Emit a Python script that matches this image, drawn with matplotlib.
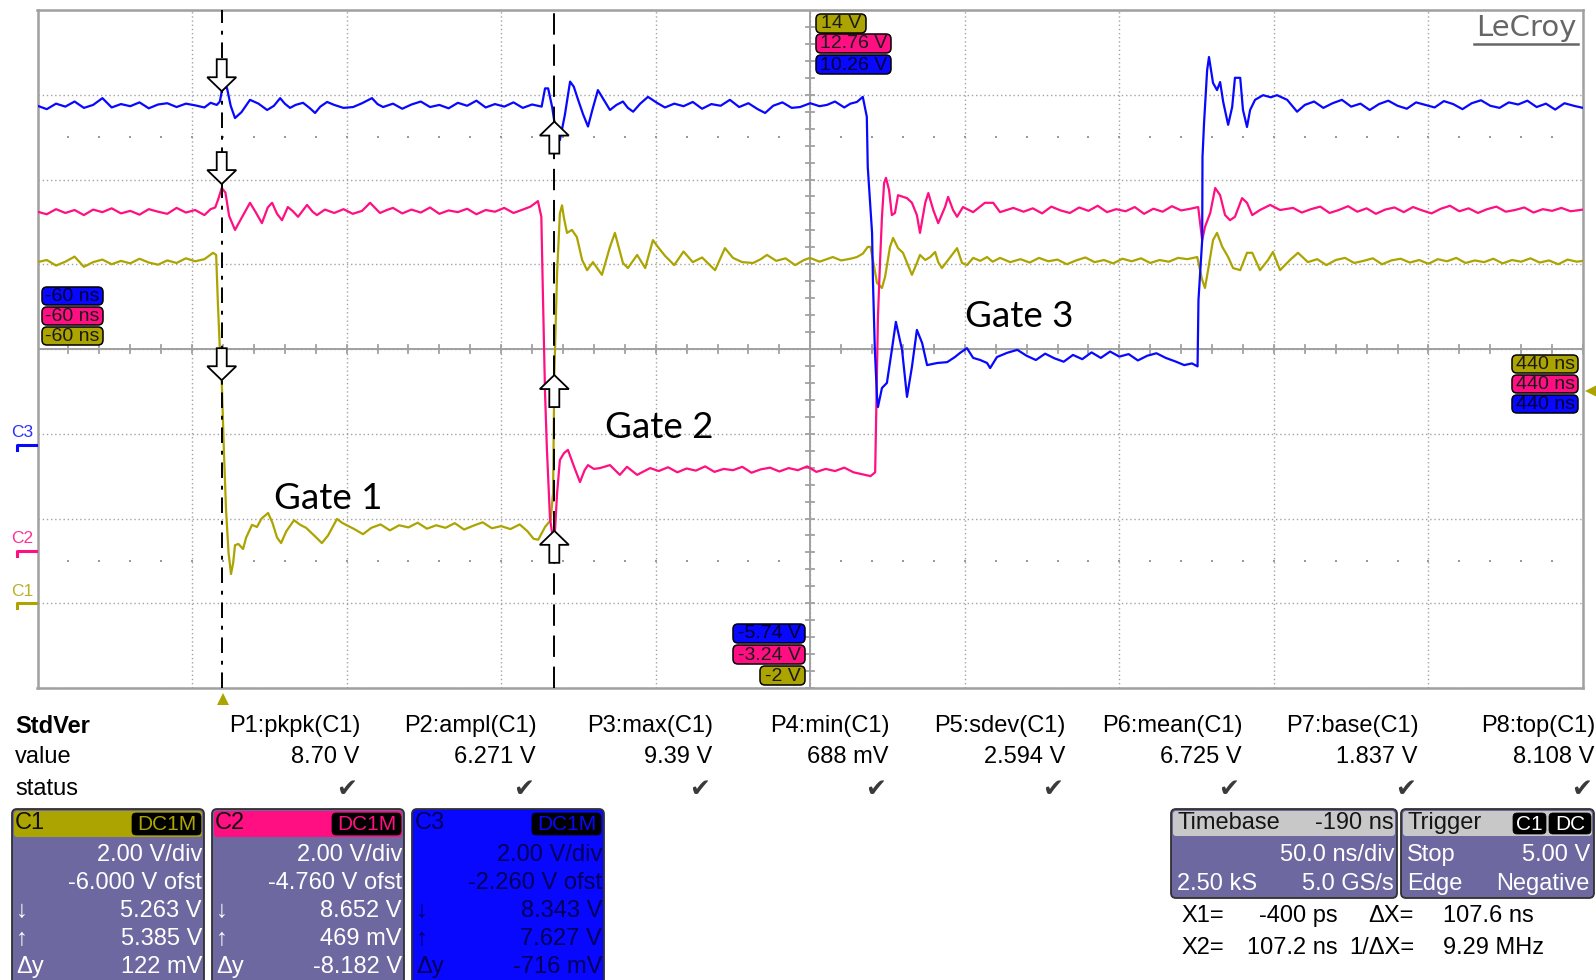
import numpy as np
import matplotlib
matplotlib.use("Agg")
import matplotlib.pyplot as plt
from matplotlib.patches import FancyBboxPatch, Polygon
from matplotlib.lines import Line2D
import matplotlib.transforms as mtransforms

# ------------------------------------------------------------------ data
time_range_ns = (-60, 440)
ns_per_div = 50.0
volts_per_div = 2.0
channel_names = ["C1", "C2", "C3"]
channel_offset_v = [-6.000, -4.760, -2.260]

# (time ns, volts)
c1_wave = [
    (-60, 8.05), (-57, 8.10), (-54, 7.97), (-51, 8.06), (-48, 8.18), (-45, 7.94), (-42, 8.05), (-39, 8.11),
    (-36, 8.00), (-33, 8.08), (-30, 8.02), (-27, 8.13), (-24, 8.04), (-21, 7.99), (-18, 8.09), (-15, 8.03),
    (-12, 8.14), (-9, 8.07), (-6, 8.12), (-4.5, 8.20), (-3.2, 8.27), (-2.2, 8.22),
    (-1.6, 7.00), (-1.0, 6.00), (-0.4, 5.26), (0.3, 3.60), (1.0, 2.20), (1.8, 1.20), (2.6, 0.69),
    (3.3, 0.95), (3.9, 1.37), (5.0, 1.40), (6.5, 1.28), (7.5, 1.55), (9.4, 1.85), (11.0, 1.80), (12.5, 2.00),
    (14.6, 2.13), (16.0, 1.90), (17.5, 1.55), (18.8, 1.42), (20.5, 1.70), (23.0, 1.96), (25.0, 1.85),
    (26.9, 1.78), (29.5, 1.60), (32.0, 1.42), (34.0, 1.60), (36.9, 1.99), (38.5, 1.90), (39.8, 1.85),
    (42.5, 1.75), (45.3, 1.63),
    (48, 1.78), (51, 1.86), (54, 1.72), (57, 1.84), (60, 1.79), (63, 1.90), (66, 1.76), (69, 1.84),
    (72, 1.78), (75, 1.89), (78, 1.74), (81, 1.83), (84, 1.91), (87, 1.77), (90, 1.82), (93, 1.75),
    (96, 1.86), (98.5, 1.70), (100.5, 1.52), (102.0, 1.50), (104.2, 1.80), (106.0, 1.96),
    (106.8, 2.60), (107.2, 5.39), (108.1, 7.80), (109.0, 9.20), (109.7, 9.39),
    (110.3, 9.10), (111.3, 8.74), (112.9, 8.81), (114.5, 8.64), (116.2, 8.10), (117.8, 7.86), (119.7, 8.05),
    (122.6, 7.75), (125.2, 8.41), (126.8, 8.74), (129.4, 8.03), (131.0, 7.91), (134.0, 8.22), (136.6, 7.91),
    (139.1, 8.57), (140.7, 8.41), (143.0, 8.20), (146.0, 7.98), (149.0, 8.30), (152.0, 8.05), (155.0, 8.16),
    (159.2, 7.86), (162.4, 8.38), (165.0, 8.15), (168.0, 8.05), (171.5, 8.03), (174.0, 8.12), (176.0, 8.22),
    (179, 8.08), (182, 8.14), (185.1, 7.98), (188, 8.10), (189.9, 8.15), (193, 8.06), (197.3, 8.17),
    (200, 8.09), (203, 8.13), (205.1, 8.17), (207, 8.25), (208.6, 8.41), (209.5, 8.41),
    (211.6, 7.56), (213.2, 7.44), (214.2, 7.70), (215.8, 8.41), (216.8, 8.62), (218.4, 8.38), (220.0, 8.27),
    (221.6, 7.98), (222.9, 7.75), (224.5, 8.03), (225.5, 8.22), (227.2, 8.10), (228.8, 8.17), (230.4, 8.29),
    (231.4, 8.05), (232.6, 7.91), (234.6, 8.10), (237.5, 8.38), (239.1, 8.03), (240.7, 7.98), (242.7, 8.15),
    (245, 8.08), (247.2, 8.17), (249, 8.06), (251.4, 8.15), (254.7, 8.05),
    (258, 8.12), (261, 8.04), (264, 8.15), (267, 8.07), (270, 8.11), (273, 8.00), (276, 8.09), (279, 8.16),
    (282, 8.05), (285, 8.10), (288, 8.02), (291, 8.13), (294, 8.07), (297, 8.14), (300, 8.03), (303, 8.10),
    (306, 8.06), (309, 8.15), (312, 8.12), (315.2, 8.17),
    (316.8, 7.63), (317.7, 7.44), (318.7, 7.86), (320.3, 8.57), (321.6, 8.74), (323.3, 8.41), (325.2, 8.17),
    (326.8, 7.91), (329.1, 7.86), (331.3, 8.27), (333.0, 8.27), (335.5, 7.86), (338.1, 8.10), (339.7, 8.29),
    (342.0, 7.86), (345.2, 8.10), (347.8, 8.27),
    (351, 8.05), (354, 8.12), (357, 7.98), (360, 8.10), (363, 8.15), (366, 8.03), (369, 8.08), (372, 8.14),
    (375, 8.00), (378, 8.09), (381, 8.13), (384, 8.04), (387, 8.10), (390, 8.01), (393, 8.12), (396, 8.07),
    (399, 8.15), (402, 8.03), (405, 8.09), (408, 8.05), (411, 8.13), (414, 8.02), (417, 8.10), (420, 8.06),
    (423, 8.14), (426, 8.04), (429, 8.09), (432, 8.00), (435, 8.11), (438, 8.06), (440, 8.08),
]

c2_wave = [
    (-60, 8.00), (-57, 7.94), (-54, 8.06), (-51, 7.97), (-48, 8.04), (-45, 7.92), (-42, 8.05), (-39, 7.99),
    (-36, 8.08), (-33, 7.96), (-30, 8.02), (-27, 7.93), (-24, 8.06), (-21, 8.00), (-18, 7.95), (-15, 8.09),
    (-12, 7.98), (-9, 8.04), (-6, 7.92), (-4, 8.06), (-2.5, 8.10), (-1.5, 8.30),
    (-0.4, 8.56), (0.8, 8.45), (2.0, 7.90), (3.9, 7.57), (6.0, 7.85), (8.75, 8.21), (10.5, 8.00), (12.6, 7.73),
    (14.5, 8.10), (15.9, 8.21), (17.5, 7.95), (19.1, 7.80), (21.0, 8.11), (22.5, 8.02), (24.3, 7.88),
    (27.2, 8.16), (29.0, 8.00), (30.4, 7.92), (33, 8.05), (36, 7.97), (39, 8.06), (42, 7.95), (45, 8.02),
    (47.6, 8.21), (50.8, 7.97), (53, 8.04), (55, 8.09),
    (58, 7.96), (61, 8.05), (64, 7.98), (67, 8.10), (70, 7.95), (73, 8.03), (76, 7.99), (79, 8.07),
    (82, 7.94), (85, 8.04), (88, 8.00), (91, 8.09), (94, 7.97), (97, 8.05), (99.5, 8.12), (101.9, 8.25),
    (103.0, 7.88), (103.5, 6.08), (104.2, 3.72), (104.8, 2.40), (105.8, 0.76), (106.5, 0.42), (107.4, 0.45),
    (108.1, 1.36), (109.0, 2.14), (110.3, 2.30), (111.6, 2.38), (113.5, 2.00), (115.5, 1.62), (117, 1.90),
    (118.1, 2.02), (120, 1.93), (122, 1.95), (125.2, 2.02), (128.4, 1.79), (130.7, 1.98), (134, 1.79),
    (138.2, 1.95),
    (141, 1.88), (144, 1.97), (147, 1.85), (150, 1.94), (153, 1.89), (156, 1.99), (159, 1.86), (162, 1.93),
    (165, 1.90), (168, 1.98), (171, 1.84), (174, 1.92), (177, 1.96), (180, 1.87), (183, 1.95), (186, 1.90),
    (189, 1.99), (192, 1.86), (195, 1.93), (198, 1.88), (201, 1.96), (204, 1.85), (207, 1.80), (209.5, 1.76),
    (211.0, 1.85),
    (211.9, 5.52), (212.6, 6.86), (213.2, 7.88), (213.9, 8.68), (214.5, 8.80), (215.5, 8.51), (216.4, 7.92),
    (217.4, 7.97), (218.4, 8.39), (221.3, 8.32), (222.9, 8.21), (224.5, 7.92), (225.5, 7.50), (227.2, 8.21),
    (228.2, 8.44), (229.8, 8.04), (231.4, 7.73), (233.6, 8.11), (234.6, 8.35), (236.2, 8.04), (237.5, 7.88),
    (239.4, 8.11), (242.7, 7.99), (246.5, 8.21), (249.2, 8.21), (251.4, 7.99), (255.7, 8.09),
    (259, 8.00), (262, 8.08), (265, 7.96), (268, 8.12), (271, 8.03), (274, 7.97), (277, 8.10), (280, 8.02),
    (283, 8.14), (286, 7.99), (289, 8.06), (292, 8.01), (295, 8.11), (298, 7.95), (301, 8.07), (304, 8.00),
    (307, 8.13), (310, 8.03), (313, 8.07), (315.5, 8.11),
    (316.8, 7.33), (317.7, 7.64), (319.4, 7.97), (321.0, 8.56), (322.6, 8.39), (324.2, 7.92), (325.8, 7.80),
    (327.4, 7.88), (329.7, 8.32), (331.3, 8.21), (333.0, 7.92), (335.5, 8.04), (338.8, 8.16), (342.0, 8.04),
    (346.2, 8.09),
    (349, 7.98), (352, 8.06), (355, 8.12), (358, 7.97), (361, 8.04), (364, 8.13), (367, 8.00), (370, 8.08),
    (373, 7.95), (376, 8.05), (379, 8.10), (382, 7.99), (385, 8.11), (388, 8.03), (391, 7.96), (394, 8.07),
    (397, 8.14), (400, 8.01), (403, 8.08), (406, 7.97), (409, 8.06), (412, 8.12), (415, 8.00), (418, 8.04),
    (421, 8.10), (424, 7.98), (427, 8.06), (430, 8.02), (433, 8.09), (436, 8.01), (440, 8.05),
]

c3_wave = [
    (-60, 8.00), (-57, 7.92), (-54, 8.05), (-51, 7.98), (-48, 8.10), (-45, 7.95), (-42, 8.02), (-39, 8.18),
    (-36, 7.96), (-33, 8.04), (-30, 7.99), (-27, 8.08), (-24, 7.94), (-21, 8.03), (-18, 8.06), (-15, 7.97),
    (-12, 8.05), (-9, 8.01), (-6, 7.96), (-4, 8.07), (-2, 8.02), (-1, 8.10),
    (-0.4, 8.34), (0.3, 8.42), (1.3, 8.42), (2.5, 8.00), (3.9, 7.71), (6.0, 7.85), (8.75, 8.14), (11.5, 8.05),
    (14.3, 7.90), (16.5, 8.00), (18.5, 8.18), (20.0, 8.05), (21.7, 7.95), (23.5, 8.02), (25.9, 8.07),
    (28.0, 7.95), (29.8, 7.83), (31.5, 7.98), (33.7, 8.09), (36, 8.02), (39, 7.95), (42.1, 7.97), (45, 8.06),
    (48.2, 8.18), (50, 8.04), (51.8, 7.97),
    (55, 8.05), (58, 7.93), (61, 8.03), (64, 8.10), (67, 7.97), (70, 8.02), (73, 7.94), (76, 8.07),
    (79, 8.00), (82, 8.12), (85, 7.96), (88, 8.04), (91, 7.98), (94, 8.08), (97, 7.95), (100, 8.03),
    (103.1, 7.98),
    (104.2, 8.41), (105.2, 8.41), (106.5, 7.97), (107.2, 7.63), (108.0, 7.40), (109.0, 7.19), (110.6, 7.78),
    (112.3, 8.57), (113.5, 8.45), (114.9, 8.14), (116.5, 7.80), (118.1, 7.51), (119.5, 7.90), (121.3, 8.37),
    (123.2, 8.14), (125.2, 7.90), (127.3, 8.02), (129.4, 8.10), (131, 7.95), (132.7, 7.86), (135, 8.05),
    (137.5, 8.21), (140.4, 8.07),
    (143, 7.96), (146, 8.05), (149, 7.99), (152, 8.09), (155, 7.93), (158, 8.04), (161, 8.00), (164, 8.14),
    (167, 7.97), (170, 8.06), (173, 7.92), (175.4, 7.83), (178, 8.00), (181, 8.08), (184, 7.95),
    (186.7, 7.97), (190, 8.06), (193, 7.99), (195.4, 8.02), (198, 8.10), (201, 7.96), (203, 8.05),
    (205.1, 8.09), (207.0, 8.21),
    (208.3, 7.74), (208.6, 6.56), (210.0, 5.00), (210.3, 3.82), (210.9, 2.24), (211.6, 1.13), (211.9, 0.89),
    (213.2, 1.34), (214.8, 1.46), (216.4, 2.24), (217.7, 2.90), (219.7, 2.24), (221.3, 1.13), (222.9, 1.84),
    (224.5, 2.71), (226.2, 2.40), (227.8, 1.88), (231.1, 1.93), (234.3, 1.95), (236.8, 2.07), (238.5, 2.17),
    (240.7, 2.28), (242.7, 2.05), (245, 2.00), (247.2, 1.93), (248.2, 1.81), (250.4, 2.07), (253.7, 2.17),
    (257.0, 2.24),
    (260, 2.10), (263, 2.00), (266, 2.15), (269, 2.04), (272, 1.96), (275, 2.12), (278, 2.02), (281, 2.18),
    (284, 2.05), (287, 2.20), (290, 2.08), (293, 2.14), (296, 1.99), (299, 2.10), (302, 2.16), (305, 2.05),
    (308, 1.97), (311, 1.88), (313.5, 1.92), (315.3, 1.85),
    (315.6, 3.42), (316.8, 4.83), (316.9, 6.79), (317.4, 7.59), (318.4, 8.84), (319.0, 9.15), (320.3, 8.54),
    (321.6, 8.37), (322.6, 8.56), (323.6, 8.09), (325.2, 7.55), (326.5, 7.97), (327.4, 8.66), (329.1, 8.66),
    (330.0, 7.90), (331.3, 7.50), (332.3, 7.90), (333.9, 8.14), (336.5, 8.25), (339, 8.20), (341.0, 8.25),
    (344.3, 8.14), (347.5, 7.86),
    (350, 8.02), (353, 8.10), (356, 7.95), (359, 8.06), (362, 8.14), (365, 7.98), (368, 8.05), (371, 7.90),
    (374, 8.04), (377, 8.12), (380, 8.00), (383, 7.93), (386, 8.08), (389, 8.02), (392, 7.96), (395, 8.11),
    (398, 8.04), (401, 7.92), (404, 8.06), (407, 8.13), (410, 8.00), (413, 7.95), (416, 8.08), (419, 8.03),
    (422, 8.12), (425, 7.97), (428, 8.05), (431, 7.91), (434, 8.06), (437, 8.00), (440, 7.95),
]

cursor_times_ns = [-0.4, 107.2]          # X1, X2
cursor_v = [[5.263, 5.385], [8.652, 0.469], [8.343, 7.627]]   # C1, C2, C3 at X1, X2
trigger_time_ns = 0.0
trigger_level_v = 5.00

gate_labels = ["Gate 1", "Gate 2", "Gate 3"]

meas_headers = ["P1:pkpk(C1)", "P2:ampl(C1)", "P3:max(C1)", "P4:min(C1)",
                "P5:sdev(C1)", "P6:mean(C1)", "P7:base(C1)", "P8:top(C1)"]
meas_values = ["8.70 V", "6.271 V", "9.39 V", "688 mV", "2.594 V", "6.725 V", "1.837 V", "8.108 V"]

ch_vdiv = ["2.00 V/div", "2.00 V/div", "2.00 V/div"]
ch_ofst = ["-6.000 V ofst", "-4.760 V ofst", "-2.260 V ofst"]
ch_down = ["5.263 V", "8.652 V", "8.343 V"]
ch_up = ["5.385 V", "469 mV", "7.627 V"]
ch_dy = ["122 mV", "-8.182 V", "-716 mV"]

timebase_rows = [("Timebase", "-190 ns"), ("", "50.0 ns/div"), ("2.50 kS", "5.0 GS/s")]
trigger_rows = [("Stop", "5.00 V"), ("Edge", "Negative")]
cursor_rows = [("X1=", "-400 ps", "\u0394X=", "107.6 ns"), ("X2=", "107.2 ns", "1/\u0394X=", "9.29 MHz")]

# ------------------------------------------------------------------ style
W, H = 1596, 980
YEL = "#aca400"
PNK = "#ff0f82"
BLU = "#0808ff"
PURP = "#6e68a0"
GRID = "#a3a3a3"
colors = [YEL, PNK, BLU]

plt.rcParams["font.family"] = ["Liberation Sans", "DejaVu Sans"]
fig = plt.figure(figsize=(W / 100, H / 100), dpi=100, facecolor="white")
ID = mtransforms.IdentityTransform()

rect = [37.5 / W, 1 - 688 / H, 1545.5 / W, 678 / H]
axes = []
for i in range(3):
    a = fig.add_axes(rect, label=f"ch{i}", frameon=(i == 0))
    center = -channel_offset_v[i]
    a.set_xlim(*time_range_ns)
    a.set_ylim(center - 4 * volts_per_div, center + 4 * volts_per_div)
    if i > 0:
        a.axis("off")
        a.patch.set_alpha(0)
    axes.append(a)

a0 = axes[0]
c1c = -channel_offset_v[0]
tc = 0.5 * (time_range_ns[0] + time_range_ns[1])
a0.set_xticks(np.arange(time_range_ns[0], time_range_ns[1] + 1, ns_per_div))
a0.set_yticks(c1c + volts_per_div * np.arange(-4, 5))
a0.tick_params(length=0, labelbottom=False, labelleft=False)
a0.grid(True, color=GRID, lw=1.0, ls=(0, (1, 2)))
for s in a0.spines.values():
    s.set_color("#a0a0a0")
    s.set_linewidth(1.8)
a0.axvline(tc, color="#a0a0a0", lw=1.4)
a0.axhline(c1c, color="#a0a0a0", lw=1.4)
for t in np.arange(time_range_ns[0], time_range_ns[1] + 0.1, ns_per_div / 5):
    a0.plot([t, t], [c1c - 0.1, c1c + 0.1], color="#a0a0a0", lw=1.3)
for v in np.arange(c1c - 4 * volts_per_div, c1c + 4 * volts_per_div + 0.01, volts_per_div / 5):
    a0.plot([tc - 1.3, tc + 1.3], [v, v], color="#a0a0a0", lw=1.3)
dots_t = np.arange(time_range_ns[0] + 10, time_range_ns[1], ns_per_div / 5)
for v in (c1c - 2.5 * volts_per_div, c1c + 2.5 * volts_per_div):
    a0.plot(dots_t, np.full(dots_t.shape, v), ls="none", marker="s", ms=1.6, color="#9a9a9a", mew=0)

for a, wave, col in zip(axes, [c1_wave, c2_wave, c3_wave], colors):
    t, v = np.array(wave).T
    a.plot(t, v, color=col, lw=1.6, zorder=3)

# overlay for cursors
axo = fig.add_axes(rect, label="ovl", frameon=False)
axo.axis("off")
axo.set_xlim(*time_range_ns)
axo.set_ylim(0, 1)
axo.axvline(cursor_times_ns[0], color="black", lw=1.4, ls=(0, (8, 4, 2, 4)))
axo.axvline(cursor_times_ns[1], color="black", lw=1.4, ls=(0, (11, 5)))


def disp(ax, x, y):
    return ax.transData.transform((x, y))


def rbox(x0, y0, x1, y1, fc, ec="black", lw=1.0, r=4, z=4):
    p = FancyBboxPatch((x0, H - y1), x1 - x0, y1 - y0, boxstyle=f"round,pad=0,rounding_size={r}",
                       transform=ID, fc=fc, ec=ec, lw=lw, zorder=z)
    fig.add_artist(p)


def txt(x, y, s, ha="left", va="center", size=17, color="black", **kw):
    fig.text(x / W, 1 - y / H, s, ha=ha, va=va, fontsize=size, color=color, zorder=8, **kw)


# cursor arrows
for k, t in enumerate(cursor_times_ns):
    down = (k == 0)
    for ch in range(3):
        x, y = disp(axes[ch], t, cursor_v[ch][k])
        sgn = 1 if down else -1
        verts = np.array([(0, 0), (-14.5, 14), (-5, 14), (-5, 32), (5, 32), (5, 14), (14.5, 14)], float)
        verts[:, 1] *= sgn
        verts += (x, y)
        fig.add_artist(Polygon(verts, closed=True, fc="white", ec="black", lw=1.3, transform=ID, zorder=6))

# trigger markers
xt, _ = disp(a0, trigger_time_ns, 0)
fig.add_artist(Line2D([xt], [H - 699], marker="^", ms=9, color=YEL, mew=0, transform=ID, zorder=6))
_, yt = disp(a0, 0, trigger_level_v)
fig.add_artist(Line2D([1591], [yt], marker="<", ms=9, color=YEL, mew=0, transform=ID, zorder=6))

# ground markers
for ch in range(3):
    _, gy = disp(axes[ch], 0, 0)
    gy = H - gy
    txt(11, gy - 12, channel_names[ch], size=12.5, color=colors[ch], alpha=0.85)
    fig.add_artist(Line2D([17, 17, 36], [H - gy - 5, H - gy, H - gy], color=colors[ch], lw=2.2,
                          transform=ID, zorder=6))

# edge labels
lbl_col = ["#1a1a1a", "#1a1a1a", "#000033"]
xmin, xmax = time_range_ns
for ch, y0 in zip([2, 1, 0], [287, 307, 327]):
    rbox(42, y0, 103, y0 + 18, colors[ch], lw=1.1, r=5, z=5)
    txt(72.5, y0 + 9.5, f"{xmin} ns", ha="center", size=14, color=lbl_col[ch])
for ch, y0 in zip([0, 1, 2], [355, 375, 395]):
    rbox(1512, y0, 1578, y0 + 18, colors[ch], lw=1.1, r=5, z=5)
    txt(1545, y0 + 9.5, f"{xmax} ns", ha="center", size=14, color=lbl_col[ch])
top_boxes = [(0, 816, 866, 14), (1, 816, 891, 34), (2, 816, 891, 55)]
for ch, x0, x1, y0 in top_boxes:
    vtop = -channel_offset_v[ch] + 4 * volts_per_div
    rbox(x0, y0, x1, y0 + 19, colors[ch], lw=1.1, r=5, z=5)
    txt((x0 + x1) / 2, y0 + 10, f"{vtop:g} V", ha="center", size=14, color=lbl_col[ch])
bot_boxes = [(2, 733, 805, 624), (1, 733, 805, 645), (0, 760, 805, 666)]
for ch, x0, x1, y0 in bot_boxes:
    vbot = -channel_offset_v[ch] - 4 * volts_per_div
    rbox(x0, y0, x1, y0 + 19, colors[ch], lw=1.1, r=5, z=5)
    txt((x0 + x1) / 2, y0 + 10, f"{vbot:g} V", ha="center", size=14, color=lbl_col[ch])

# logo
txt(1526, 28, "LeCroy", ha="center", size=21, color="#666666", family=["DejaVu Sans"], weight="medium")
fig.add_artist(Line2D([1474, 1578], [H - 44, H - 44], color="#666666", lw=1.8, transform=ID, zorder=6))

# gate annotations
for s, (x, y) in zip(gate_labels, [(274, 509), (605, 438), (965, 327)]):
    txt(x, y, s, va="baseline", size=26.5, color="black", family=["Lato", "DejaVu Sans"])

# measurement table
txt(15, 726, "StdVer", weight="bold")
txt(15, 757, "value")
txt(15, 789, "status")
for k in range(8):
    xr = 360.3 + 176.4 * k
    txt(xr, 726, meas_headers[k], ha="right")
    txt(xr - 1, 757, meas_values[k], ha="right")
    txt(xr - 3, 789, "\u2714", ha="right", size=18, color="#3a3a3a", family=["DejaVu Sans"])

# channel boxes
box_x = [(12, 204), (212, 404), (412, 604)]
body_txt = ["white", "white", "#00005a"]
for ch in range(3):
    x0, x1 = box_x[ch]
    body = PURP if ch < 2 else BLU
    rbox(x0, 809, x1, 1000, body, ec="#303030", lw=1.3, r=5, z=4)
    rbox(x0 + 2, 811, x1 - 2, 837, colors[ch], ec="none", lw=0, r=3, z=4.5)
    txt(x0 + 3, 823, channel_names[ch], color="#101010" if ch < 2 else "#00005a")
    rbox(x1 - 72, 813, x1 - 3, 835, "black", ec="black", lw=0.5, r=4, z=5)
    txt(x1 - 37.5, 824, "DC1M", ha="center", size=15, color=colors[ch])
    c = body_txt[ch]
    rows = [("", ch_vdiv[ch]), ("", ch_ofst[ch]), ("\u2193", ch_down[ch]),
            ("\u2191", ch_up[ch]), ("\u0394y", ch_dy[ch])]
    for r, (lt, rt) in enumerate(rows):
        y = 855 + 28 * r
        if lt:
            txt(x0 + 4, y, lt, color=c)
        txt(x1 - 2, y, rt, ha="right", color=c)

# timebase / trigger boxes
rbox(1171, 809, 1397, 898, PURP, ec="#303030", lw=1.3, r=5, z=4)
rbox(1173, 811, 1395, 836, "#c8c8c8", ec="none", lw=0, r=3, z=4.5)
rbox(1401, 809, 1594, 898, PURP, ec="#303030", lw=1.3, r=5, z=4)
rbox(1403, 811, 1592, 836, "#c8c8c8", ec="none", lw=0, r=3, z=4.5)
txt(1177, 823, timebase_rows[0][0], color="#151515")
txt(1394, 823, timebase_rows[0][1], ha="right", color="#151515")
txt(1394, 855, timebase_rows[1][1], ha="right", color="white")
txt(1177, 884, timebase_rows[2][0], color="white")
txt(1394, 884, timebase_rows[2][1], ha="right", color="white")
txt(1407, 823, "Trigger", color="#151515")
rbox(1513, 813, 1546, 834, "black", lw=0.5, r=4, z=5)
txt(1529.5, 824, "C1", ha="center", size=15, color="white")
rbox(1549, 813, 1591, 834, "black", lw=0.5, r=4, z=5)
txt(1570, 824, "DC", ha="center", size=15, color="white")
for r, (lt, rt) in enumerate(trigger_rows):
    y = 855 + 29 * r
    txt(1407, y, lt, color="white")
    txt(1590, y, rt, ha="right", color="white")

for r, (a_, b_, c_, d_) in enumerate(cursor_rows):
    y = 916 + 32 * r
    txt(1181, y, a_)
    txt(1338, y, b_, ha="right")
    txt(1414, y, c_, ha="right")
    txt(1443, y, d_)

fig.savefig("out.png", dpi=100, facecolor="white")
